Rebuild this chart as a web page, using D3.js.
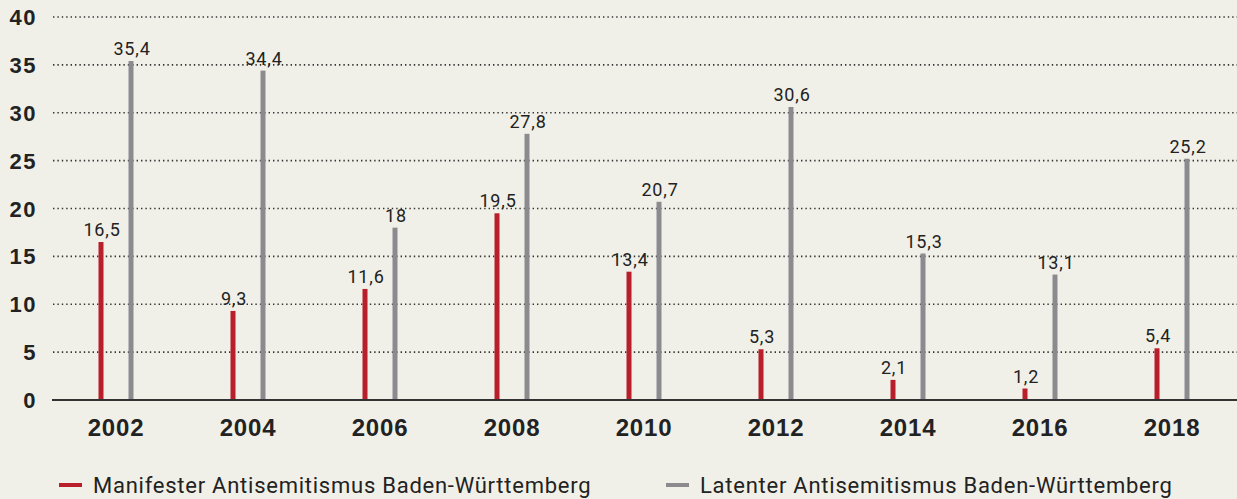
<!DOCTYPE html>
<html>
<head>
<meta charset="utf-8">
<script src="https://cdn.jsdelivr.net/npm/d3@7"></script>
<style>
  html, body { margin: 0; padding: 0; background: #f1f0e8; }
  svg { display: block; }
  .y-label { font-family: 'Liberation Sans', Arial, sans-serif; font-weight: bold; font-size: 22px; fill: #222; letter-spacing: 1.5px; }
  .x-label { font-family: 'Liberation Sans', Arial, sans-serif; font-weight: bold; font-size: 24px; fill: #222; letter-spacing: 0.8px; }
  .value-label { font-family: 'Roboto', 'Liberation Sans', sans-serif; font-size: 18px; fill: #222; letter-spacing: 0.8px; }
  .legend-text { font-family: 'Roboto', 'Liberation Sans', sans-serif; font-size: 22px; fill: #222; letter-spacing: 0.75px; }
</style>
</head>
<body>
<svg id="chart"></svg>
<script>
// data
const years = ['2002', '2004', '2006', '2008', '2010', '2012', '2014', '2016', '2018']
const manifest = [16.5, 9.3, 11.6, 19.5, 13.4, 5.3, 2.1, 1.2, 5.4]
const latent = [35.4, 34.4, 18, 27.8, 20.7, 30.6, 15.3, 13.1, 25.2]
const yTicks = [0, 5, 10, 15, 20, 25, 30, 35, 40]
const seriesNames = ['Manifester Antisemitismus Baden-Württemberg', 'Latenter Antisemitismus Baden-Württemberg']
const colors = ['#b81f2a', '#8b8b8f']

const W = 1237, H = 499
const svg = d3.select('#chart').attr('width', W).attr('height', H)

svg.append('rect').attr('width', W).attr('height', H).attr('fill', '#f1f0e8')

let xScale = d3.scaleBand().domain(years).range([50, 1238])
let yScale = d3.scaleLinear().domain([0, 40]).range([400, 17])

// gridlines
svg.append('g')
  .selectAll('line')
  .data(yTicks.filter(d => d > 0))
  .enter()
  .append('line')
  .attr('x1', 53)
  .attr('x2', W)
  .attr('y1', d => yScale(d))
  .attr('y2', d => yScale(d))
  .attr('stroke', '#333')
  .attr('stroke-width', 1.6)
  .attr('stroke-dasharray', '1.4,3')

// y tick labels
svg.append('g')
  .selectAll('text')
  .data(yTicks)
  .enter()
  .append('text')
  .attr('class', 'y-label')
  .attr('x', 37)
  .attr('y', d => yScale(d) + 8)
  .attr('text-anchor', 'end')
  .text(d => d)

const offset = 15
const barW = 5

const series = [manifest, latent]
series.forEach((vals, s) => {
  let dx = s === 0 ? -offset : offset
  let g = svg.append('g')
  g.selectAll('rect')
    .data(vals)
    .enter()
    .append('rect')
    .attr('x', (d, i) => xScale(years[i]) + xScale.bandwidth() / 2 + dx - barW / 2)
    .attr('y', d => yScale(d))
    .attr('width', barW)
    .attr('height', d => yScale(0) - yScale(d))
    .attr('fill', colors[s])

  g.selectAll('text')
    .data(vals)
    .enter()
    .append('text')
    .attr('class', 'value-label')
    .attr('x', (d, i) => xScale(years[i]) + xScale.bandwidth() / 2 + dx + 1)
    .attr('y', d => yScale(d) - 6)
    .attr('text-anchor', 'middle')
    .text(d => String(d).replace('.', ','))
})

// baseline
svg.append('line')
  .attr('x1', 52)
  .attr('x2', W)
  .attr('y1', yScale(0))
  .attr('y2', yScale(0))
  .attr('stroke', '#333')
  .attr('stroke-width', 2)

// x labels
svg.append('g')
  .selectAll('text')
  .data(years)
  .enter()
  .append('text')
  .attr('class', 'x-label')
  .attr('x', d => xScale(d) + xScale.bandwidth() / 2)
  .attr('y', 436)
  .attr('text-anchor', 'middle')
  .text(d => d)

// legend
const legendX = [59, 666]
seriesNames.forEach((name, s) => {
  svg.append('line')
    .attr('x1', legendX[s])
    .attr('x2', legendX[s] + 23)
    .attr('y1', 485)
    .attr('y2', 485)
    .attr('stroke', colors[s])
    .attr('stroke-width', 4)
  svg.append('text')
    .attr('class', 'legend-text')
    .attr('x', legendX[s] + 34)
    .attr('y', 493)
    .text(name)
})
</script>
</body>
</html>
